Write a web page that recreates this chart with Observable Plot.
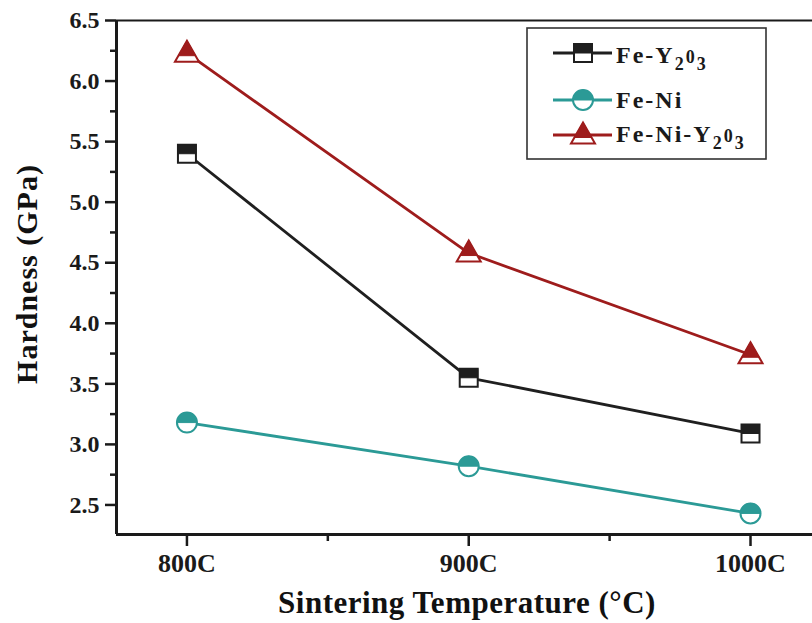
<!DOCTYPE html>
<html><head><meta charset="utf-8">
<script src="https://cdn.jsdelivr.net/npm/d3@7"></script>
<script src="https://cdn.jsdelivr.net/npm/@observablehq/plot@0.6"></script>
<style>body{margin:0;background:#fff} svg{display:block}</style>
</head><body><div id="chart"></div>
<script>
const temperatures = [800, 900, 1000];
const xTickLabels = ["800C", "900C", "1000C"];
const hardnessFeY2O3 = [5.40, 3.55, 3.09];
const hardnessFeNi = [3.18, 2.82, 2.43];
const hardnessFeNiY2O3 = [6.23, 4.58, 3.74];
const seriesKeys = ["FeY2O3", "FeNi", "FeNiY2O3"];
const seriesColors = ["#1f1f1f", "#2b9a96", "#9e1c1c"];
const legendLabels = [
  [["Fe-Y", 0], ["2", 1], ["0", 0], ["3", 1]],
  [["Fe-Ni", 0]],
  [["Fe-Ni-Y", 0], ["2", 1], ["0", 0], ["3", 1]]
];
const yMajorTicks = [2.5, 3.0, 3.5, 4.0, 4.5, 5.0, 5.5, 6.0, 6.5];
const yMinorTicks = [2.75, 3.25, 3.75, 4.25, 4.75, 5.25, 5.75, 6.25];
const xMinorTicks = [850, 950];

// custom marker shapes (size -> r)
const rad = s => Math.sqrt(s / Math.PI);
const fullSquare = {draw(c, s) { const r = rad(s); c.moveTo(-r, -r); c.lineTo(r, -r); c.lineTo(r, r); c.lineTo(-r, r); c.closePath(); }};
const halfSquare = {draw(c, s) { const r = rad(s); c.moveTo(-r, -r); c.lineTo(r, -r); c.lineTo(r, 0); c.lineTo(-r, 0); c.closePath(); }};
const fullCircle = {draw(c, s) { const r = rad(s); c.moveTo(r, 0); c.arc(0, 0, r, 0, 2 * Math.PI); c.closePath(); }};
const halfCircle = {draw(c, s) { const r = rad(s); c.moveTo(-r, 0); c.arc(0, 0, r, Math.PI, 2 * Math.PI); c.closePath(); }};
const fullTriangle = {draw(c, s) { const r = rad(s); c.moveTo(0, -1.25 * r); c.lineTo(1.2 * r, 0.85 * r); c.lineTo(-1.2 * r, 0.85 * r); c.closePath(); }};
const halfTriangle = {draw(c, s) { const r = rad(s); const yb = 0.25 * r; const w = 1.2 * r * (yb + 1.25 * r) / (2.1 * r); c.moveTo(0, -1.25 * r); c.lineTo(w, yb); c.lineTo(-w, yb); c.closePath(); }};
const fullShapes = [fullSquare, fullCircle, fullTriangle];
const halfShapes = [halfSquare, halfCircle, halfTriangle];
const markerR = [9, 10, 10];

const seriesValues = [hardnessFeY2O3, hardnessFeNi, hardnessFeNiY2O3];
const rows = seriesKeys.map((k, i) => temperatures.map((t, j) => ({series: k, t, v: seriesValues[i][j]})));

const serif = "'Liberation Serif', 'DejaVu Serif', serif";
const yMin = 2.256, yMax = 6.5, xMin = 775, xMax = 1022;

const marks = [];
marks.push(Plot.axisY({ticks: yMinorTicks, label: null, tickSize: 6, tickFormat: () => "", strokeWidth: 2.5, stroke: "#1a1a1a"}));
marks.push(Plot.axisY({ticks: yMajorTicks, label: null, tickSize: 11, tickPadding: 6, tickFormat: d => d.toFixed(1), strokeWidth: 2.5, stroke: "#1a1a1a", fill: "#1a1a1a", fontSize: 24, fontWeight: "bold", fontFamily: serif}));
marks.push(Plot.axisX({ticks: xMinorTicks, label: null, tickSize: 7, tickFormat: () => "", strokeWidth: 2.5, stroke: "#1a1a1a"}));
marks.push(Plot.axisX({ticks: temperatures, label: null, tickSize: 12, tickPadding: 7, tickFormat: d => xTickLabels[temperatures.indexOf(d)], strokeWidth: 2.5, stroke: "#1a1a1a", fill: "#1a1a1a", fontSize: 26, fontWeight: "bold", fontFamily: serif}));
marks.push(Plot.ruleX([xMin], {stroke: "#1a1a1a", strokeWidth: 3}));
marks.push(Plot.ruleY([yMin], {stroke: "#1a1a1a", strokeWidth: 3}));
marks.push(Plot.ruleY([yMax], {stroke: "#1a1a1a", strokeWidth: 2.2}));
rows.forEach((d, i) => {
  marks.push(Plot.line(d, {x: "t", y: "v", stroke: seriesColors[i], strokeWidth: 2.8}));
});
rows.forEach((d, i) => {
  marks.push(Plot.dot(d, {x: "t", y: "v", symbol: fullShapes[i], r: markerR[i], fill: "white", stroke: seriesColors[i], strokeWidth: 2}));
  marks.push(Plot.dot(d, {x: "t", y: "v", symbol: halfShapes[i], r: markerR[i], fill: seriesColors[i], stroke: seriesColors[i], strokeWidth: 1}));
});

const chart = Plot.plot({
  width: 812, height: 623,
  marginLeft: 116, marginRight: 0, marginTop: 20, marginBottom: 89,
  x: {type: "linear", domain: [xMin, xMax], axis: null},
  y: {type: "linear", domain: [yMin, yMax], axis: null},
  style: {background: "#fff"},
  marks
});

const svg = d3.select(chart);
// axis titles
svg.append("text").attr("x", 467).attr("y", 613).attr("text-anchor", "middle")
  .attr("font-family", serif).attr("font-weight", "bold").attr("font-size", 31).attr("fill", "#111")
  .attr("letter-spacing", 0.5)
  .text("Sintering Temperature (°C)");
svg.append("text").attr("transform", "translate(37,274) rotate(-90)").attr("text-anchor", "middle")
  .attr("font-family", serif).attr("font-weight", "bold").attr("font-size", 30).attr("fill", "#111")
  .attr("letter-spacing", 1)
  .text("Hardness (GPa)");

// legend
const lg = svg.append("g");
lg.append("rect").attr("x", 527).attr("y", 28).attr("width", 239).attr("height", 131)
  .attr("fill", "white").attr("stroke", "#333").attr("stroke-width", 1.6);
const rowY = [53, 100, 135];
const textY = [63, 108, 142];
seriesKeys.forEach((k, i) => {
  lg.append("line").attr("x1", 553).attr("x2", 612).attr("y1", rowY[i]).attr("y2", rowY[i])
    .attr("stroke", seriesColors[i]).attr("stroke-width", 2.8);
  const size = markerR[i] * markerR[i] * Math.PI;
  lg.append("path").attr("transform", `translate(583,${rowY[i]})`)
    .attr("d", d3.symbol(fullShapes[i], size)()).attr("fill", "white").attr("stroke", seriesColors[i]).attr("stroke-width", 2);
  lg.append("path").attr("transform", `translate(583,${rowY[i]})`)
    .attr("d", d3.symbol(halfShapes[i], size)()).attr("fill", seriesColors[i]).attr("stroke", seriesColors[i]).attr("stroke-width", 1);
  const t = lg.append("text").attr("x", 616).attr("y", textY[i]).attr("text-anchor", "start")
    .attr("font-family", serif).attr("font-weight", "bold").attr("font-size", 24).attr("fill", "#1a1a1a")
    .attr("letter-spacing", 2);
  let prevSub = 0;
  legendLabels[i].forEach(([s, sub]) => {
    const ts = t.append("tspan").text(s);
    const dy = (sub - prevSub) * 7;
    if (dy) ts.attr("dy", dy);
    if (s.length === 1 && /[0-9]/.test(s)) ts.attr("font-size", 18);
    prevSub = sub;
  });
});

document.getElementById("chart").appendChild(chart);
</script>
</body></html>
